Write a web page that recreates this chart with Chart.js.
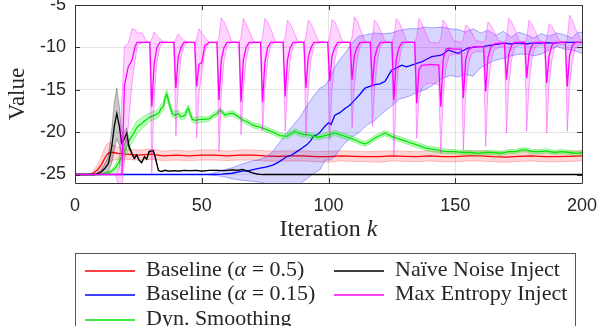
<!DOCTYPE html>
<html>
<head>
<meta charset="utf-8">
<script src="https://cdn.jsdelivr.net/npm/chart.js@4.4.1/dist/chart.umd.min.js"></script>
<style>
  body { margin: 0; background: #fff; }
  #wrap { position: relative; width: 598px; height: 326px; overflow: hidden; background: #fff; }
  #xtitle { position: absolute; left: 75px; width: 507px; top: 214px; text-align: center; font: 24px/28px 'Liberation Serif', serif; color: #262626; }
  #legend { position: absolute; left: 75px; top: 253px; width: 501px; height: 100px; border: 1px solid #555; background: #fff; box-sizing: border-box; }
  .sw { position: absolute; width: 50px; height: 2px; opacity: 0.75; }
  .lb { position: absolute; font: 22px/24px 'Liberation Serif', serif; color: #262626; white-space: nowrap; }
</style>
</head>
<body>
<div id="wrap">
  <canvas id="c" width="598" height="326"></canvas>
  <div id="xtitle">Iteration <i>k</i></div>
  <div id="legend"></div>
</div>
<script>
// axis ticks
const xTicks = [0, 50, 100, 150, 200];
const yTicks = [-25, -20, -15, -10, -5];

const seriesNames = ['Baseline (<i>α</i> = 0.5)', 'Baseline (<i>α</i> = 0.15)', 'Dyn. Smoothing',
                     'Naïve Noise Inject', 'Max Entropy Inject'];

// Baseline alpha = 0.5 (mean and spread)
const redX = [0, 5, 7, 9, 10.5, 11.5, 12.5, 13.5, 15, 17,
  20, 25, 30, 35, 40, 45, 50, 55, 60, 65, 70, 75, 80, 85, 90, 95, 100,
  105, 110, 115, 120, 125, 130, 135, 140, 145, 150, 155, 160, 165, 170, 175, 180, 185, 190, 195, 200];
const redMean = [-25, -25, -24.9, -24.4, -23.8, -23.2, -22.7, -22.4, -22.4, -22.5,
  -22.6, -22.7, -22.6, -22.8, -22.7, -22.8, -22.7, -22.7, -22.8, -22.7, -22.7, -22.8, -22.85, -22.8, -22.8, -22.9, -22.9,
  -22.8, -22.85, -22.9, -22.9, -22.8, -22.85, -22.9, -22.8, -22.9, -22.9, -22.8, -22.8, -22.9, -22.95, -22.85, -22.8, -22.9, -22.9, -22.85, -22.8];
const redStd = [0, 0, 0.2, 0.6, 1.0, 1.2, 1.3, 1.2, 0.9, 0.7,
  0.6, 0.6, 0.6, 0.55, 0.6, 0.55, 0.6, 0.6, 0.55, 0.6, 0.6, 0.6, 0.6, 0.6, 0.6, 0.6, 0.65,
  0.6, 0.6, 0.6, 0.65, 0.6, 0.6, 0.6, 0.6, 0.6, 0.6, 0.6, 0.6, 0.6, 0.6, 0.6, 0.6, 0.6, 0.6, 0.6, 0.6];

// Baseline alpha = 0.15
const blueX = [0, 55, 58, 62, 66, 69, 72, 75.6, 78, 80,
  82, 83.5, 85.5, 87.5, 89.5, 91.4, 93, 94, 95.5, 96.7,
  98.6, 100, 101, 102.5, 104.5, 106.5, 108.5, 110.4, 112.5, 114.4,
  116.3, 118.3, 120.3, 122.3, 123.5, 124.9, 127, 128.9, 130.8, 132.8,
  134.8, 136.8, 138.7, 140.7, 142.7, 144.7, 146, 147.3, 149, 151.2,
  153, 155, 157, 159, 161, 163, 165, 167, 169.6, 172,
  174, 176, 178, 180, 183, 186, 189, 192, 195, 198, 200];
const blueMean = [-25, -25, -24.95, -24.85, -24.6, -24.5, -24.3, -24.1, -23.9, -23.6,
  -23.2, -22.9, -22.7, -22.3, -21.9, -21.5, -21.0, -20.5, -20.3, -20.0,
  -19.3, -18.9, -19.1, -18.0, -17.7, -17.2, -16.8, -16.2, -15.5, -14.8,
  -14.6, -14.4, -14.3, -14.0, -13.4, -12.7, -12.4, -12.1, -12.3, -12.1,
  -11.9, -11.7, -11.4, -11.1, -11.0, -10.9, -10.6, -10.3, -10.5, -10.7,
  -10.4, -10.1, -10.0, -9.9, -9.9, -9.8, -9.7, -9.6, -9.5, -9.6,
  -9.5, -9.5, -9.6, -9.5, -9.5, -9.45, -9.5, -9.4, -9.4, -9.4, -9.4];
const blueBandX = [0, 52, 55, 58, 62, 66.4, 70, 73, 75.6, 78,
  80.5, 83.5, 86, 88.8, 91.5, 94, 96.7, 98.6, 100.6, 102.5,
  104.5, 106.5, 109, 111.8, 115, 118.3, 121.5, 124.9, 128, 131.5,
  135, 138, 141, 144.7, 148, 151.2, 154, 157, 160, 163,
  166, 169, 172, 175, 178, 181, 184, 187, 190, 193, 196, 198, 200];
const blueUpper = [-25, -25, -24.8, -24.5, -24.2, -23.7, -23.4, -23.2, -22.9, -22.3,
  -21.3, -20.1, -19.2, -18.2, -16.9, -15.8, -14.8, -14.5, -13.6, -12.3,
  -11.4, -10.7, -9.6, -8.7, -8.5, -8.3, -8.4, -8.3, -8.0, -7.8,
  -7.8, -7.6, -7.7, -7.6, -7.8, -7.9, -8.2, -7.8, -8.3, -8.0,
  -8.6, -8.1, -8.8, -8.2, -8.5, -8.9, -8.4, -8.7, -8.3, -8.5, -8.9, -8.3, -8.2];
const blueLower = [-25, -25, -25.1, -25.2, -25.5, -25.7, -25.8, -25.9, -26.1, -26.3,
  -26.4, -26.4, -26.4, -26.1, -25.5, -24.9, -24.4, -23.3, -23.3, -22.9,
  -22.0, -21.3, -20.6, -20.1, -19.2, -18.6, -17.7, -16.9, -16.1, -15.8,
  -15.3, -15.0, -14.5, -13.7, -13.3, -13.5, -13.2, -13.4, -12.4, -11.9,
  -11.5, -11.3, -11.0, -10.8, -10.8, -11.0, -10.8, -10.3, -9.9, -10.2, -10.3, -10.5, -10.7];

// Dyn. Smoothing
const greenX = [0, 10, 12, 14, 16, 17.5, 18.4, 19.5, 20.4, 21.4,
  22.4, 23.4, 24.3, 25.3, 26.3, 27.3, 28.3, 29.6, 30.6, 31.6,
  32.9, 34, 34.9, 35.5, 36.2, 37, 37.5, 38.4, 39.5, 40.8,
  41.8, 43.4, 44.2, 44.7, 45.4, 46.3, 47.4, 49.3, 51.3, 53,
  54.7, 56, 57.2, 58, 59.2, 61, 62.5, 64.5, 66.4, 68,
  70.4, 73, 75.6, 78, 80.9, 83.5, 85, 86.8, 88, 90.1,
  92, 94, 96, 98.6, 100.6, 102.5, 104.5, 106.5, 108.5, 110.4,
  112.5, 114.4, 116.3, 118.3, 120.3, 122.3, 123.5, 124.9, 126.9, 128.9,
  130.8, 132.8, 134.8, 136.8, 138.7, 140.7, 142.7, 144.7, 147, 150,
  153, 156, 159, 162, 165, 168, 171, 174, 176.2, 178,
  180.2, 183, 186, 189, 192, 195, 198, 200];
const greenMean = [-25, -25, -24.9, -24.7, -24.2, -23.5, -22.9, -22.2, -21.7, -21.0,
  -20.5, -20.0, -19.5, -19.2, -19.0, -18.7, -18.5, -18.2, -18.1, -18.0,
  -17.8, -17.2, -16.9, -16.0, -15.5, -16.4, -17.0, -17.8, -18.0, -17.8,
  -18.2, -18.0, -17.4, -17.2, -17.8, -18.5, -18.6, -18.5, -18.5, -18.4,
  -18.0, -17.8, -17.4, -17.6, -18.0, -17.8, -17.8, -18.2, -18.6, -18.8,
  -19.2, -19.4, -19.7, -20.0, -20.4, -20.5, -20.2, -19.9, -20.1, -20.3,
  -20.3, -20.5, -20.6, -20.4, -20.3, -20.1, -20.3, -20.5, -20.7, -20.9,
  -21.2, -21.4, -21.1, -20.7, -20.4, -20.1, -20.3, -20.5, -20.7, -20.9,
  -21.1, -21.3, -21.5, -21.7, -21.9, -22.0, -22.1, -22.2, -22.3, -22.3,
  -22.4, -22.4, -22.5, -22.4, -22.4, -22.5, -22.3, -22.3, -22.1, -22.1,
  -22.3, -22.3, -22.2, -22.4, -22.3, -22.4, -22.5, -22.4];
const greenStd = [0, 0, 0.1, 0.2, 0.4, 0.6, 0.7, 0.8, 0.8, 0.8,
  0.8, 0.8, 0.8, 0.7, 0.7, 0.6, 0.6, 0.5, 0.5, 0.5,
  0.5, 0.5, 0.5, 0.5, 0.5, 0.5, 0.4, 0.4, 0.4, 0.4,
  0.4, 0.4, 0.4, 0.4, 0.4, 0.35, 0.35, 0.35, 0.3, 0.3,
  0.3, 0.3, 0.3, 0.3, 0.3, 0.3, 0.3, 0.3, 0.3, 0.3,
  0.3, 0.3, 0.3, 0.3, 0.3, 0.3, 0.3, 0.3, 0.3, 0.3,
  0.3, 0.3, 0.3, 0.3, 0.3, 0.3, 0.3, 0.3, 0.3, 0.3,
  0.3, 0.3, 0.3, 0.3, 0.3, 0.3, 0.3, 0.3, 0.3, 0.3,
  0.3, 0.3, 0.3, 0.3, 0.3, 0.3, 0.3, 0.3, 0.25, 0.25,
  0.25, 0.25, 0.25, 0.25, 0.25, 0.25, 0.25, 0.25, 0.25, 0.25,
  0.25, 0.25, 0.25, 0.25, 0.25, 0.25, 0.25, 0.25];

// Naive Noise Inject
const blackX = [0, 8, 10.5, 12, 13.2, 14.5, 15.5, 16.5, 17.5, 18.4,
  19.3, 20.4, 21.3, 22.4, 23.4, 24.3, 25.3, 26.3, 27.4, 28.3,
  29.2, 30.9, 31.6, 32.9, 34, 35.5, 37, 39, 41, 43,
  45, 48, 50, 53, 56, 59, 62, 64, 66, 68,
  70, 72, 74, 200];
const blackMean = [-25, -25, -24.65, -24.2, -23.7, -21.7, -19.3, -17.8, -19.3, -21.3,
  -20.9, -20.1, -21.7, -22.5, -23.1, -22.7, -23.3, -23.6, -22.9, -23.2,
  -22.3, -22.2, -22.9, -24.5, -24.65, -24.5, -24.6, -24.55, -24.6, -24.5,
  -24.55, -24.5, -24.6, -24.5, -24.5, -24.55, -24.45, -24.5, -24.4, -24.6,
  -24.8, -24.95, -25, -25];
const blackStd = [0, 0, 0.3, 0.6, 0.9, 2.0, 2.8, 3.0, 2.3, 1.3,
  0.9, 0.6, 0.3, 0.15, 0.1, 0.1, 0.1, 0.1, 0.1, 0.1,
  0.1, 0.1, 0.1, 0.05, 0, 0, 0, 0, 0, 0,
  0, 0, 0, 0, 0, 0, 0, 0, 0, 0,
  0, 0, 0, 0];

// Max Entropy Inject (band is asymmetric, so upper/lower kept explicitly)
const magX = [0, 16, 17.5, 18.5, 19.5, 21, 22.5, 23.7, 24.5, 26.5, 28, 29.5,
  30.3, 31.2, 32.3, 33.5, 35.3,
  39.0, 39.8, 40.7, 41.8, 43.0, 44.8,
  47.2, 48.0, 48.9, 50.0, 51.2, 53.0,
  56.0, 56.8, 57.7, 58.8, 60.0, 61.8,
  64.7, 65.5, 66.4, 67.5, 68.7, 70.5,
  73.2, 74.0, 74.9, 76.0, 77.2, 79.0,
  82.1, 82.9, 83.8, 84.9, 86.1, 87.9,
  90.3, 91.1, 92.0, 93.1, 94.3, 96.1,
  99.7, 100.5, 101.4, 102.5, 103.7, 105.5,
  108.5, 109.3, 110.2, 111.3, 112.5, 114.3,
  116.5, 117.3, 118.2, 119.3, 120.5, 122.3,
  125.0, 125.8, 126.7, 127.8, 129.0, 130.8,
  134.0, 134.8, 135.7, 136.8, 138.0, 140.0, 143.5,
  144.3, 145.2, 146.3, 147.5, 149.3, 152.4,
  153.2, 154.1, 155.2, 156.4, 158.2, 161.2,
  162.0, 162.9, 164.0, 165.2, 167.0, 169.4,
  170.2, 171.1, 172.2, 173.4, 175.2, 177.4,
  178.2, 179.1, 180.2, 181.4, 183.2, 185.3,
  186.1, 187.0, 188.1, 189.3, 191.1, 193.4,
  194.2, 195.1, 196.2, 197.4, 199.0, 200];
const magMean = [-25, -25, -25, -25, -14.5, -12.3, -11.5, -9.9, -9.4, -9.4, -9.4, -9.4,
  -17.0, -12.0, -10.0, -9.4, -9.4,
  -9.4, -14.8, -11.2, -10.0, -9.4, -9.4,
  -9.4, -14.6, -12.0, -11.8, -9.8, -9.4,
  -9.4, -16.2, -11.5, -10.0, -9.4, -9.4,
  -9.4, -16.4, -11.5, -10.0, -9.4, -9.4,
  -9.4, -16.4, -11.8, -10.0, -9.4, -9.4,
  -9.4, -15.8, -11.5, -10.0, -9.4, -9.4,
  -9.4, -14.8, -11.2, -10.0, -9.4, -9.4,
  -9.4, -14.0, -11.0, -10.0, -9.4, -9.4,
  -9.4, -13.8, -11.0, -10.0, -9.4, -9.4,
  -9.4, -14.6, -11.2, -10.0, -9.4, -9.4,
  -9.4, -16.2, -11.5, -10.0, -9.4, -9.4,
  -9.4, -16.6, -12.6, -12.1, -12.1, -12.0, -12.1,
  -17.0, -11.5, -10.2, -10.1, -10.2, -10.2,
  -16.0, -11.5, -10.3, -10.0, -9.9, -9.9,
  -15.2, -11.2, -10.0, -9.6, -9.5, -9.5,
  -13.8, -10.8, -9.8, -9.4, -9.4, -9.4,
  -13.6, -10.8, -9.8, -9.4, -9.4, -9.4,
  -14.2, -11.0, -9.8, -9.4, -9.4, -9.4,
  -14.6, -11.0, -9.8, -9.4, -9.4, -9.4];
const magUpper = [-25, -25, -24.2, -16.2, -9.9, -9.5, -7.8, -7.9, -8.3, -8.3, -9.2, -9.4,
  -9.0, -8.2, -8.6, -9.0, -9.4,
  -9.4, -9.0, -8.4, -8.8, -9.2, -9.4,
  -9.4, -9.0, -7.8, -8.3, -8.8, -9.4,
  -9.4, -8.8, -6.5, -7.0, -7.8, -9.3,
  -9.4, -8.8, -6.6, -7.2, -8.0, -9.3,
  -9.4, -8.8, -6.6, -7.0, -7.8, -9.3,
  -9.4, -8.8, -6.8, -7.2, -8.0, -9.3,
  -9.4, -8.8, -6.8, -7.2, -8.0, -9.3,
  -9.4, -8.8, -6.7, -7.0, -7.8, -9.3,
  -9.4, -8.8, -6.4, -6.9, -7.8, -9.3,
  -9.4, -8.8, -6.8, -7.2, -8.0, -9.3,
  -9.4, -8.8, -6.6, -7.0, -7.8, -9.3,
  -9.4, -8.8, -6.6, -7.2, -8.0, -9.4, -9.5,
  -9.0, -6.8, -7.2, -8.0, -9.2, -9.4,
  -9.0, -7.4, -7.6, -8.2, -9.2, -9.4,
  -9.0, -7.0, -7.4, -8.0, -9.2, -9.4,
  -9.0, -6.6, -7.0, -7.8, -9.2, -9.4,
  -9.0, -6.8, -7.2, -8.0, -9.2, -9.4,
  -9.0, -7.2, -7.5, -8.2, -9.2, -9.4,
  -9.0, -6.2, -6.8, -7.8, -8.8, -9.2];
const magLower = [-25, -25, -26.6, -26.6, -23.5, -19.3, -14.2, -11.5, -9.8, -9.4, -9.4, -9.4,
  -24.8, -16.0, -11.8, -9.9, -9.4,
  -9.4, -20.5, -14.5, -11.2, -9.8, -9.4,
  -9.4, -20.7, -15.5, -13.0, -10.5, -9.4,
  -9.4, -22.3, -15.5, -11.5, -9.8, -9.4,
  -9.4, -20.3, -15.0, -11.5, -9.8, -9.4,
  -9.4, -19.8, -15.0, -11.5, -9.8, -9.4,
  -9.4, -19.9, -15.0, -11.5, -9.8, -9.4,
  -9.4, -20.5, -15.0, -11.5, -9.8, -9.4,
  -9.4, -20.9, -15.0, -11.5, -9.8, -9.4,
  -9.4, -19.5, -14.5, -11.5, -9.8, -9.4,
  -9.4, -19.3, -14.8, -11.5, -9.8, -9.4,
  -9.4, -22.9, -15.5, -11.8, -9.8, -9.4,
  -9.4, -20.7, -16.0, -14.8, -14.4, -14.2, -14.4,
  -22.5, -16.0, -12.5, -11.0, -10.8, -10.8,
  -22.1, -15.5, -12.0, -10.8, -10.5, -10.5,
  -21.7, -15.0, -11.8, -10.3, -10.0, -9.9,
  -20.1, -14.5, -11.5, -10.0, -9.7, -9.7,
  -19.9, -14.5, -11.5, -10.0, -9.7, -9.7,
  -20.1, -14.5, -11.5, -10.0, -9.7, -9.7,
  -19.9, -14.5, -11.5, -10.0, -9.7, -9.6];

const pts = (xs, ys) => xs.map((x, i) => ({x: x, y: ys[i]}));
const shift = (xs, m, s, sign) => xs.map((x, i) => ({x: x, y: m[i] + sign * s[i]}));

function band(up, lo, edge, fillCol, order) {
  return [
    {data: up, borderColor: edge, borderWidth: 0.8, fill: false, order: order},
    {data: lo, borderColor: edge, borderWidth: 0.8, fill: '-1', backgroundColor: fillCol, order: order}
  ];
}
function meanLine(data, color, order) {
  return {data: data, borderColor: color, borderWidth: 1.3, fill: false, order: order};
}

const lineColors = ['#ff0000', '#0000ff', '#00e600', '#000000', '#ff00ff'];

const datasets = [
  ...band(shift(redX, redMean, redStd, 1), shift(redX, redMean, redStd, -1), 'rgba(255,0,0,0.3)', 'rgba(255,0,0,0.16)', 10),
  ...band(pts(blueBandX, blueUpper), pts(blueBandX, blueLower), 'rgba(0,0,255,0.4)', 'rgba(0,0,255,0.16)', 8),
  ...band(shift(greenX, greenMean, greenStd, 1), shift(greenX, greenMean, greenStd, -1), 'rgba(0,210,0,0.4)', 'rgba(0,255,0,0.25)', 6),
  ...band(shift(blackX, blackMean, blackStd, 1), shift(blackX, blackMean, blackStd, -1), 'rgba(0,0,0,0.35)', 'rgba(0,0,0,0.22)', 4),
  ...band(pts(magX, magUpper), pts(magX, magLower), 'rgba(255,0,255,0.45)', 'rgba(255,0,255,0.17)', 2),
  meanLine(pts(redX, redMean), lineColors[0], 9),
  meanLine(pts(blueX, blueMean), lineColors[1], 7),
  meanLine(pts(greenX, greenMean), lineColors[2], 5),
  meanLine(pts(blackX, blackMean), lineColors[3], 3),
  meanLine(pts(magX, magMean), lineColors[4], 1)
];

// MATLAB-like box with inward ticks, drawn over the data
const frame = {
  id: 'frame',
  afterDatasetsDraw(chart) {
    const {ctx, chartArea: a, scales: {x, y}} = chart;
    ctx.save();
    ctx.strokeStyle = '#333';
    ctx.lineWidth = 1;
    ctx.beginPath();
    xTicks.forEach(v => {
      const px = Math.round(x.getPixelForValue(v)) + 0.5;
      ctx.moveTo(px, a.bottom); ctx.lineTo(px, a.bottom - 5);
      ctx.moveTo(px, a.top); ctx.lineTo(px, a.top + 5);
    });
    yTicks.forEach(v => {
      const py = Math.round(y.getPixelForValue(v)) + 0.5;
      ctx.moveTo(a.left, py); ctx.lineTo(a.left + 5, py);
      ctx.moveTo(a.right, py); ctx.lineTo(a.right - 5, py);
    });
    ctx.rect(Math.round(a.left) + 0.5, Math.round(a.top) + 0.5, Math.round(a.width), Math.round(a.height));
    ctx.stroke();
    ctx.restore();
  }
};

const tickFont = {family: "'Liberation Sans', Arial, sans-serif", size: 18};

new Chart(document.getElementById('c'), {
  type: 'line',
  data: {datasets: datasets},
  options: {
    responsive: false,
    animation: false,
    layout: {padding: {top: 5, right: 16, bottom: 76, left: 0}},
    elements: {point: {radius: 0}, line: {tension: 0}},
    plugins: {legend: {display: false}, tooltip: {enabled: false}},
    scales: {
      x: {
        type: 'linear', min: 0, max: 200,
        afterBuildTicks: s => { s.ticks = xTicks.map(v => ({value: v})); },
        afterFit: s => { s.height = 67; s.paddingLeft = 0; s.paddingRight = 0; },
        grid: {color: '#e4e4e4', drawTicks: false},
        border: {display: false},
        ticks: {font: tickFont, color: '#262626', padding: 12, maxRotation: 0, autoSkip: false}
      },
      y: {
        type: 'linear', min: -26, max: -5,
        afterBuildTicks: s => { s.ticks = yTicks.map(v => ({value: v})); },
        afterFit: s => { s.width = 75; s.paddingTop = 0; s.paddingBottom = 0; },
        grid: {color: '#e4e4e4', drawTicks: false},
        border: {display: false},
        ticks: {font: tickFont, color: '#262626', padding: 9, autoSkip: false},
        title: {display: true, text: 'Value', color: '#262626',
                font: {family: "'Liberation Serif', serif", size: 23}, padding: {top: 4, bottom: 0}}
      }
    }
  },
  plugins: [frame]
});

// legend: two columns, filled column-wise
const legendRows = [16.7, 41.2, 65.7];
const legendCols = [{line: 9, text: 70}, {line: 258, text: 319}];
const legendBox = document.getElementById('legend');
seriesNames.forEach((name, i) => {
  const col = legendCols[Math.floor(i / 3)];
  const row = legendRows[i % 3];
  const sw = document.createElement('div');
  sw.className = 'sw';
  sw.style.left = col.line + 'px';
  sw.style.top = (row - 1) + 'px';
  sw.style.background = lineColors[i];
  legendBox.appendChild(sw);
  const lb = document.createElement('div');
  lb.className = 'lb';
  lb.style.left = col.text + 'px';
  lb.style.top = (row - 13.9) + 'px';
  lb.innerHTML = name;
  legendBox.appendChild(lb);
});
</script>
</body>
</html>
